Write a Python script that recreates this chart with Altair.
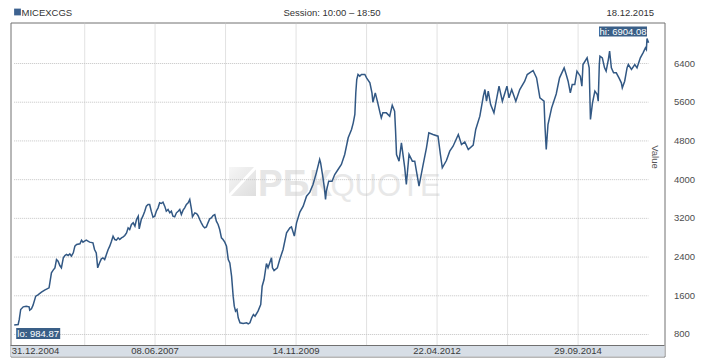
import altair as alt
import pandas as pd

# ---- series (MICEXCGS close) ----
dates_2005_2008 = [
    "2004-12-31", "2005-01-25", "2005-02-01", "2005-02-10", "2005-02-26", "2005-03-17",
    "2005-04-04", "2005-04-08", "2005-04-19", "2005-04-29", "2005-05-16", "2005-05-30",
    "2005-06-21", "2005-07-11", "2005-08-08", "2005-08-13", "2005-08-23", "2005-09-03",
    "2005-09-14", "2005-09-24", "2005-10-04", "2005-10-15", "2005-10-25", "2005-11-06",
    "2005-11-16", "2005-11-26", "2005-12-06", "2005-12-17", "2005-12-27", "2006-01-08",
    "2006-01-18", "2006-01-29", "2006-02-19", "2006-03-01", "2006-03-10", "2006-03-20",
    "2006-03-31", "2006-04-21", "2006-05-12", "2006-05-22", "2006-06-02", "2006-06-11",
    "2006-06-23", "2006-07-04", "2006-07-14", "2006-07-25", "2006-08-05", "2006-08-16",
    "2006-08-26", "2006-09-06", "2006-09-16", "2006-09-27", "2006-10-07", "2006-10-18",
    "2006-10-28", "2006-11-08", "2006-11-19", "2006-11-29", "2006-12-10", "2006-12-20",
    "2006-12-30", "2007-01-10", "2007-01-21", "2007-02-01", "2007-02-11", "2007-02-22",
    "2007-02-28", "2007-03-13", "2007-03-23", "2007-04-04", "2007-04-14", "2007-04-25",
    "2007-05-05", "2007-05-15", "2007-05-26", "2007-06-06", "2007-06-16", "2007-06-27",
    "2007-07-07", "2007-07-17", "2007-07-28", "2007-08-08", "2007-08-18", "2007-08-29",
    "2007-09-09", "2007-09-19", "2007-09-29", "2007-10-10", "2007-10-21", "2007-11-01",
    "2007-11-11", "2007-11-21", "2007-12-02", "2007-12-12", "2007-12-23", "2008-01-03",
    "2008-01-13", "2008-01-24", "2008-01-30", "2008-02-14", "2008-02-25", "2008-03-05",
    "2008-03-16", "2008-03-26", "2008-04-06", "2008-04-16", "2008-04-27", "2008-05-07",
    "2008-05-18", "2008-05-28", "2008-06-08", "2008-06-19", "2008-06-29", "2008-07-10",
    "2008-07-20", "2008-07-31", "2008-08-10",
]
values_2005_2008 = [
    984.87, 996, 1100, 1306, 1361, 1375,
    1361, 1292, 1320, 1396, 1582, 1609,
    1664, 1706, 1754, 1857, 2064, 2119,
    2167, 2339, 2305, 2215, 2167, 2374,
    2422, 2443, 2422, 2456, 2408, 2477,
    2615, 2649, 2663, 2739, 2698, 2718,
    2739, 2698, 2684, 2546, 2477, 2167,
    2271, 2353, 2374, 2339, 2443, 2546,
    2615, 2718, 2822, 2752, 2739, 2787,
    2752, 2787, 2808, 2835, 2890, 2994,
    2959, 3063, 3097, 3028, 3166, 3235,
    2973, 3166, 3235, 3338, 3442, 3476,
    3476, 3338, 3214, 3235, 3338, 3407,
    3510, 3497, 3524, 3442, 3338, 3373,
    3304, 3338, 3235, 3221, 3304, 3338,
    3373, 3269, 3359, 3407, 3476, 3510,
    3579, 3373, 3221, 3304, 3290, 3249,
    3166, 3097, 3028, 2994, 3014, 3097,
    3180, 3200, 3249, 3269, 3131, 3063,
    2959, 2787, 2753,
]

dates_2008_2011 = [
    "2008-08-21", "2008-09-01", "2008-09-12", "2008-09-22", "2008-10-03", "2008-10-13",
    "2008-10-20", "2008-10-28", "2008-11-06", "2008-11-14", "2008-11-25", "2008-12-15",
    "2009-01-06", "2009-01-16", "2009-01-27", "2009-02-07", "2009-02-18", "2009-02-28",
    "2009-03-19", "2009-04-05", "2009-04-14", "2009-04-26", "2009-05-11", "2009-05-21",
    "2009-06-01", "2009-06-12", "2009-06-18", "2009-06-28", "2009-07-19", "2009-08-03",
    "2009-08-24", "2009-09-15", "2009-10-06", "2009-10-16", "2009-11-03", "2009-11-17",
    "2009-12-08", "2009-12-29", "2010-01-19", "2010-02-09", "2010-03-01", "2010-03-22",
    "2010-04-12", "2010-04-18", "2010-05-03", "2010-05-13", "2010-05-19", "2010-05-24",
    "2010-06-08", "2010-06-29", "2010-07-16", "2010-08-06", "2010-08-27", "2010-09-17",
    "2010-10-09", "2010-10-30", "2010-11-10", "2010-11-20", "2010-11-26", "2010-12-02",
    "2010-12-10", "2010-12-21", "2011-01-01", "2011-01-22", "2011-02-02", "2011-02-23",
    "2011-03-08", "2011-03-14", "2011-03-29", "2011-04-11", "2011-04-28", "2011-05-06",
    "2011-05-16", "2011-06-07", "2011-06-28", "2011-07-14", "2011-07-29",
]
values_2008_2011 = [
    2698, 2615, 2340, 2270, 1995, 1582,
    1375, 1272, 1306, 1134, 1031, 1017,
    1031, 1010, 1031, 1134, 1203, 1168,
    1272, 1409, 1788, 1926, 2257, 2167,
    2270, 2374, 2167, 2112, 2167, 2340,
    2546, 2890, 2994, 3014, 2822, 3097,
    3318, 3441, 3648, 3731, 3889, 4130,
    4406, 4337, 4027, 3786, 3579, 3751,
    3958, 3958, 4096, 4199, 4302, 4509,
    4854, 5026, 5164, 5336, 5784, 6059,
    6162, 6128, 6162, 6162, 6093, 5990,
    5784, 5590, 5784, 5611, 5370, 5267,
    5370, 5370, 5301, 5528, 5404,
]

dates_2011_2014 = [
    "2011-08-04", "2011-08-10", "2011-08-26", "2011-09-10", "2011-10-01", "2011-10-11",
    "2011-10-28", "2011-11-18", "2011-12-03", "2011-12-30", "2012-01-25", "2012-02-15",
    "2012-03-01", "2012-03-27", "2012-04-28", "2012-05-13", "2012-05-25", "2012-06-20",
    "2012-07-11", "2012-08-01", "2012-09-03", "2012-09-23", "2012-10-14", "2012-11-05",
    "2012-12-06", "2012-12-22", "2013-01-17", "2013-02-08", "2013-02-18", "2013-02-28",
    "2013-03-11", "2013-03-26", "2013-04-16", "2013-05-18", "2013-06-08", "2013-07-07",
    "2013-07-20", "2013-08-06", "2013-09-01", "2013-09-26", "2013-10-27", "2013-11-12",
    "2013-12-19", "2014-01-10", "2014-01-31", "2014-02-26", "2014-03-04", "2014-03-12",
    "2014-03-23", "2014-04-15",
]
values_2011_2014 = [
    5000, 4509, 4371, 4750, 4234, 3889,
    4509, 4371, 4371, 3855, 4302, 4647,
    4957, 4922, 4888, 4509, 4234, 4385,
    4578, 4681, 4922, 4716, 4771, 4612,
    4702, 5026, 5301, 5714, 5852, 5611,
    5818, 5542, 5370, 5921, 5611, 5921,
    5680, 5852, 5611, 5852, 6024, 6162,
    6245, 6093, 5680, 5611, 5095, 4612,
    5129, 5473,
]

dates_2014_2015 = [
    "2014-05-14", "2014-06-04", "2014-07-03", "2014-07-16", "2014-07-28", "2014-08-11",
    "2014-08-23", "2014-09-08", "2014-09-22", "2014-10-13", "2014-10-23", "2014-10-30",
    "2014-11-25", "2014-12-08", "2014-12-16", "2014-12-29", "2015-01-13", "2015-01-28",
    "2015-02-03", "2015-02-10", "2015-02-14", "2015-03-01", "2015-03-15", "2015-03-25",
    "2015-04-08", "2015-04-16", "2015-04-27", "2015-05-11", "2015-05-28", "2015-06-14",
    "2015-06-29", "2015-07-05", "2015-07-20", "2015-08-04", "2015-08-12", "2015-09-01",
    "2015-09-22", "2015-10-06", "2015-10-27", "2015-11-13", "2015-11-28", "2015-12-04",
    "2015-12-08", "2015-12-18",
]
values_2014_2015 = [
    5760, 6093, 6300, 6162, 6024, 5783,
    5955, 5955, 6231, 6128, 5921, 6369,
    6507, 6300, 5232, 5577, 5818, 5749,
    5611, 6369, 6541, 6507, 6300, 6231,
    6472, 6644, 6300, 6197, 6197, 6093,
    5990, 5887, 6024, 6300, 6369, 6266,
    6369, 6300, 6507, 6610, 6713, 6679,
    6904.08, 6817,
]

# ---- axis / grid definitions ----
y_ticks = [800, 1600, 2400, 3200, 4000, 4800, 5600, 6400]
grid_dates = ["2006-03-21", "2007-06-08", "2008-08-26", "2009-11-14",
              "2011-02-02", "2012-04-22", "2013-07-11", "2014-09-29"]
first_label = ["31.12.2004"]
first_label_date = ["2004-12-31"]
x_labels = ["08.06.2007", "14.11.2009", "22.04.2012", "29.09.2014"]
x_label_dates = ["2007-06-08", "2009-11-14", "2012-04-22", "2014-09-29"]

header_left = "MICEXCGS"
header_mid = "Session: 10:00 \u2013 18:50"
header_right = "18.12.2015"
y_title = "Value"

df = pd.DataFrame({
    "date": dates_2005_2008 + dates_2008_2011 + dates_2011_2014 + dates_2014_2015,
    "value": values_2005_2008 + values_2008_2011 + values_2011_2014 + values_2014_2015,
})

lo_row = df.loc[df["value"].idxmin()]
hi_row = df.loc[df["value"].idxmax()]
lo_df = pd.DataFrame({"date": [lo_row["date"]], "value": [lo_row["value"]],
                      "label": [f"lo: {lo_row['value']:.2f}"]})
hi_df = pd.DataFrame({"date": [hi_row["date"]], "value": [hi_row["value"]],
                      "label": [f"hi: {hi_row['value']:.2f}"]})

hgrid_df = pd.DataFrame({"v": y_ticks, "start": df["date"].iloc[0], "end": df["date"].iloc[-1]})
vgrid_df = pd.DataFrame({"d": grid_dates})
xlab_df = pd.DataFrame({"d": x_label_dates, "label": x_labels})
xlab0_df = pd.DataFrame({"d": first_label_date, "label": first_label})

W, H = 654, 334
FONT = "Liberation Sans"
LINE = "#325884"
BOX = "#3a5f87"
FRAME = "#707070"
GRID = "#c4c4c4"

xscale = alt.Scale(
    domain=[alt.DateTime(year=2004, month=12, date=7, hours=15, minutes=36, utc=True),
            alt.DateTime(year=2016, month=3, date=27, hours=9, minutes=36, utc=True)],
    nice=False,
)
yscale = alt.Scale(domain=[335, 7237], nice=False, zero=False)
yaxis = alt.Axis(orient="right", values=y_ticks, format="d", grid=False, domain=False,
                 ticks=False, tickSize=0, labelPadding=9, labelFont=FONT,
                 labelFontSize=9.5, labelColor="#4d4d4d", title=None)

one = pd.DataFrame({"k": [0]})

band = alt.Chart(one).mark_rect(color="#d7dee6").encode(
    x=alt.value(0), x2=alt.value(W), y=alt.value(323), y2=alt.value(H))
band_line = alt.Chart(one).mark_rule(color=FRAME, strokeWidth=1).encode(
    x=alt.value(0), x2=alt.value(W), y=alt.value(323))

# watermark
logo = alt.Chart(one).mark_rect(
    color=alt.Gradient(gradient="linear",
                       stops=[alt.GradientStop(color="#f6f6f6", offset=0),
                              alt.GradientStop(color="#dedede", offset=1)],
                       x1=0, y1=0, x2=1, y2=1)
).encode(x=alt.value(218.5), x2=alt.value(245.5), y=alt.value(144.5), y2=alt.value(173.5))
logo_cut = alt.Chart(one).mark_rule(color="white", strokeWidth=3).encode(
    x=alt.value(218), x2=alt.value(246), y=alt.value(174), y2=alt.value(144))
wm1 = alt.Chart(pd.DataFrame({"t": ["\u0420\u0411\u041a"]})).mark_text(
    font=FONT, fontSize=37, fontWeight="bold", color="#e6e6e6", align="left", baseline="alphabetic"
).encode(x=alt.value(247.5), y=alt.value(173.5), text="t:N")
wm2 = alt.Chart(pd.DataFrame({"t": ["QUOTE"]})).mark_text(
    font=FONT, fontSize=31, color="#e8e8e8", align="left", baseline="alphabetic"
).encode(x=alt.value(320), y=alt.value(173.5), text="t:N")

vgrid = alt.Chart(vgrid_df).mark_rule(color=GRID, strokeDash=[1, 1], strokeWidth=1).encode(
    x=alt.X("d:T", scale=xscale, axis=None), y=alt.value(0), y2=alt.value(323))
hgrid = alt.Chart(hgrid_df).mark_rule(color=GRID, strokeDash=[1, 1], strokeWidth=1, yOffset=0.5).encode(
    x=alt.X("start:T", scale=xscale, axis=None), x2="end:T",
    y=alt.Y("v:Q", scale=yscale, axis=yaxis))

line = alt.Chart(df).mark_line(color=LINE, strokeWidth=1.5).encode(
    x=alt.X("date:T", scale=xscale, axis=None),
    y=alt.Y("value:Q", scale=yscale, axis=yaxis))

hi_box = alt.Chart(hi_df).mark_rect(color=BOX, xOffset=-48, x2Offset=0, yOffset=-12, y2Offset=-2).encode(
    x=alt.X("date:T", scale=xscale, axis=None), x2="date:T",
    y=alt.Y("value:Q", scale=yscale, axis=yaxis), y2="value:Q")
hi_txt = alt.Chart(hi_df).mark_text(font=FONT, fontSize=9.5, color="white", dx=-24, dy=-7,
                                    baseline="middle").encode(
    x=alt.X("date:T", scale=xscale, axis=None), y=alt.Y("value:Q", scale=yscale, axis=yaxis),
    text="label:N")
lo_box = alt.Chart(lo_df).mark_rect(color=BOX, xOffset=2, x2Offset=46, yOffset=3, y2Offset=14).encode(
    x=alt.X("date:T", scale=xscale, axis=None), x2="date:T",
    y=alt.Y("value:Q", scale=yscale, axis=yaxis), y2="value:Q")
lo_txt = alt.Chart(lo_df).mark_text(font=FONT, fontSize=9.5, color="white", dx=24, dy=8.8,
                                    baseline="middle").encode(
    x=alt.X("date:T", scale=xscale, axis=None), y=alt.Y("value:Q", scale=yscale, axis=yaxis),
    text="label:N")

xlabels = alt.Chart(xlab_df).mark_text(font=FONT, fontSize=9.5, color="#3a3a3a",
                                       baseline="alphabetic", align="center").encode(
    x=alt.X("d:T", scale=xscale, axis=None), y=alt.value(331), text="label:N")
xlabel0 = alt.Chart(xlab0_df).mark_text(font=FONT, fontSize=9.5, color="#3a3a3a",
                                        baseline="alphabetic", align="left", dx=-2.5).encode(
    x=alt.X("d:T", scale=xscale, axis=None), y=alt.value(331), text="label:N")

sq = alt.Chart(one).mark_square(size=46, color="#3d6290", opacity=1).encode(
    x=alt.value(7), y=alt.value(-10.5))
h_left = alt.Chart(pd.DataFrame({"t": [header_left]})).mark_text(
    font=FONT, fontSize=9.5, color="#333333", align="left", baseline="alphabetic"
).encode(x=alt.value(11), y=alt.value(-7), text="t:N")
h_mid = alt.Chart(pd.DataFrame({"t": [header_mid]})).mark_text(
    font=FONT, fontSize=9.5, color="#333333", align="center", baseline="alphabetic"
).encode(x=alt.value(321.5), y=alt.value(-7), text="t:N")
h_right = alt.Chart(pd.DataFrame({"t": [header_right]})).mark_text(
    font=FONT, fontSize=9.5, color="#333333", align="right", baseline="alphabetic"
).encode(x=alt.value(643.5), y=alt.value(-7), text="t:N")
v_title = alt.Chart(pd.DataFrame({"t": [y_title]})).mark_text(
    font=FONT, fontSize=9.5, color="#555555", angle=90, align="center", baseline="middle"
).encode(x=alt.value(644.5), y=alt.value(134.5), text="t:N")

chart = alt.layer(
    band, logo, logo_cut, wm1, wm2, vgrid, hgrid, band_line, line,
    hi_box, hi_txt, lo_box, lo_txt, xlabels, xlabel0, sq, h_left, h_mid, h_right, v_title,
).properties(
    width=W, height=H,
    autosize=alt.AutoSizeParams(type="none"),
    padding={"left": 2.5, "top": 14.5, "right": 45.5, "bottom": 1.5},
    background="white",
).configure_view(stroke=FRAME, strokeWidth=1)

chart.save("out.html", embed_options={"renderer": "svg", "actions": False})
